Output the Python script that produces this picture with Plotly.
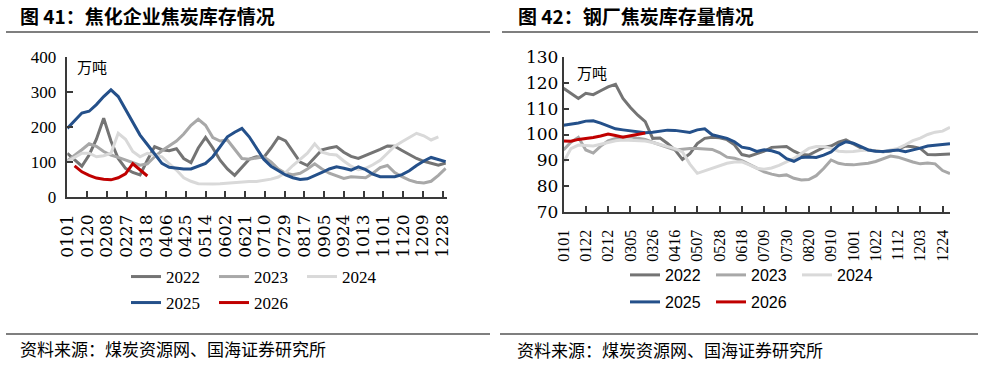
import plotly.graph_objects as go
from datetime import date

# ---------------- data ----------------
week_dates = ["0101", "0108", "0115", "0122", "0129", "0205", "0212", "0219", "0226", "0305",
              "0312", "0319", "0326", "0402", "0409", "0416", "0423", "0430", "0507", "0514",
              "0521", "0528", "0604", "0611", "0618", "0625", "0702", "0709", "0716", "0723",
              "0730", "0806", "0813", "0820", "0827", "0903", "0910", "0917", "0924", "1001",
              "1008", "1015", "1022", "1029", "1105", "1112", "1119", "1126", "1203", "1210",
              "1217", "1224", "1231"]

left_ticks = ["0101", "0120", "0208", "0227", "0318", "0406", "0425", "0514", "0602", "0621",
              "0710", "0729", "0817", "0905", "0924", "1013", "1101", "1120", "1209", "1228"]
right_ticks = ["0101", "0122", "0212", "0305", "0326", "0416", "0507", "0528", "0618", "0709",
               "0730", "0820", "0910", "1001", "1022", "1112", "1203", "1224"]

# 图41 焦化企业焦炭库存（万吨）
coke_2022 = [125, 105, 88, 120, 165, 225, 160, 110, 82, 70, 63, 105, 144, 135, 132, 138, 110, 98,
             140, 170, 140, 105, 80, 62, 85, 108, 115, 113, 140, 170, 160, 130, 100, 90, 112, 135,
             140, 144, 128, 116, 110, 118, 126, 136, 146, 145, 133, 122, 110, 102, 96, 91, 97]
coke_2023 = [103, 118, 135, 152, 145, 130, 120, 113, 105, 97, 91, 95, 115, 132, 145, 160, 180, 205,
             222, 205, 170, 160, 163, 135, 110, 108, 112, 115, 100, 80, 68, 64, 68, 80, 95, 80,
             68, 60, 53, 58, 56, 55, 68, 84, 90, 70, 58, 48, 42, 40, 45, 62, 82]
coke_2024 = [101, 112, 125, 125, 115, 118, 125, 182, 165, 130, 115, 125, 120, 115, 95, 77, 55, 45,
             38, 37, 37, 38, 40, 42, 44, 44, 44, 47, 51, 57, 70, 90, 108, 125, 152, 128,
             122, 120, 103, 88, 78, 82, 92, 105, 125, 145, 158, 170, 182, 175, 163, 172]
coke_2025 = [196, 218, 240, 245, 264, 287, 306, 287, 250, 213, 177, 150, 122, 96, 85, 82, 80, 80,
             88, 96, 115, 145, 172, 185, 196, 172, 140, 108, 88, 75, 63, 55, 50, 52, 60, 70,
             80, 86, 82, 77, 86, 78, 65, 58, 58, 58, 64, 75, 90, 103, 113, 106, 101]
coke_2026 = [89, 72, 62, 54, 51, 49, 55, 66, 95, 77, 60]          # from 0108

# 图42 钢厂焦炭库存量（万吨）
inv_2022 = [118, 116, 114, 116, 115.5, 117, 118.5, 119.5, 114, 110.5, 107.5, 105, 98.5, 98.6,
            96.5, 94, 90.3, 92.5, 96.5, 98.5, 98.9, 98.7, 98, 96, 92.2, 91.6, 92.5, 93.5, 95,
            95.2, 95.3, 93.5, 92.2, 92, 93.5, 95, 95.5, 97, 97.9, 96.5, 94.8, 94, 93.6, 93.3,
            93.6, 94.3, 95.5, 95.2, 94.6, 92.2, 92.1, 92.3, 92.4]
inv_2023 = [94, 97, 98.9, 94, 92.8, 95.5, 97.5, 98.5, 99, 99.1, 98.5, 98.1, 97, 96, 95, 94,
            94.3, 94.6, 94.6, 94.5, 94.2, 93, 91.2, 90.8, 89.8, 88.4, 86.8, 85.5, 84.6, 84,
            84.3, 83, 82.3, 82.5, 84, 86.8, 90.1, 88.8, 88.3, 88.2, 88.5, 88.8, 89.5, 90.4,
            91.6, 91.2, 90.2, 89.3, 88.6, 88.9, 88.6, 86, 84.8]
inv_2024 = [89.2, 94.5, 95.9, 95.7, 95.5, 96.2, 96.8, 97.6, 97.9, 97.7, 97.7, 97.5, 96.9, 96.2,
            95.5, 94.5, 93.2, 88.5, 84.9, 85.8, 86.9, 87.8, 88.8, 89.3, 89.4, 88.2, 86.9, 86.5,
            87, 88, 89.5, 90.7, 92.6, 94.6, 95.3, 95.3, 94.6, 93.5, 93.3, 93.4, 93.8, 94, 93.6,
            93.3, 94, 94.6, 96, 97.6, 98.6, 100, 100.9, 101.3, 102.8]
inv_2025 = [103.6, 104, 104.5, 105.2, 105.3, 104.4, 103.3, 102.2, 101.8, 101.4, 101, 100.7,
            100.9, 101.3, 101.7, 101.6, 101.2, 100.8, 101.8, 102.2, 99.9, 99.3, 98.5, 97.2,
            95.1, 94.6, 93.4, 94.1, 93.7, 92.8, 90.6, 89.6, 91.1, 91.3, 91.1, 92, 93.2, 95.8,
            97.2, 96.6, 95.2, 94, 93.5, 93.4, 93.7, 94, 93.3, 93.9, 94.7, 95.5, 95.8, 96.1, 96.4]
inv_2026 = [97.5, 97.4, 98.1, 98.4, 98.8, 99.4, 100.2, 99.6, 98.9, 99.5, 100.1, 100.6]

years = ["2022", "2023", "2024", "2025", "2026"]
colors = {"2022": "#747474", "2023": "#A8A8A8", "2024": "#D9D9D9",
          "2025": "#24508A", "2026": "#C00000"}


def doy(mmdd):
    return date(2023, int(mmdd[:2]), int(mmdd[2:])).timetuple().tm_yday - 1


week_x = [doy(d) for d in week_dates]

W, H = 986, 368


def px(x):
    return x / W


def py(y):
    return 1 - y / H


fig = go.Figure()

left_series = {"2022": (week_x, coke_2022), "2023": (week_x, coke_2023),
               "2024": (week_x[:len(coke_2024)], coke_2024), "2025": (week_x, coke_2025),
               "2026": (week_x[1:1 + len(coke_2026)], coke_2026)}
right_series = {"2022": (week_x, inv_2022), "2023": (week_x, inv_2023),
                "2024": (week_x, inv_2024), "2025": (week_x, inv_2025),
                "2026": (week_x[:len(inv_2026)], inv_2026)}

for y in years:
    xs, vs = left_series[y]
    fig.add_trace(go.Scatter(x=xs, y=vs, name=y, mode="lines",
                             line=dict(color=colors[y], width=3),
                             xaxis="x", yaxis="y",
                             legend="legend" if y in ("2022", "2023", "2024") else "legend2"))
for y in years:
    xs, vs = right_series[y]
    fig.add_trace(go.Scatter(x=xs, y=vs, name=y, mode="lines",
                             line=dict(color=colors[y], width=3),
                             xaxis="x2", yaxis="y2",
                             legend="legend3" if y in ("2022", "2023", "2024") else "legend4"))

axis_common = dict(showline=True, linecolor="#3a3a3a", linewidth=1.5, showgrid=False,
                   zeroline=False, ticks="inside", ticklen=6, tickcolor="#3a3a3a",
                   tickwidth=1.5, automargin=False)

fig.update_layout(
    width=W, height=H, margin=dict(l=0, r=0, t=0, b=0, pad=0, autoexpand=False),
    paper_bgcolor="white", plot_bgcolor="white",
    xaxis=dict(domain=[px(67.3), px(446.7)], range=[0, 365], anchor="y",
               tickmode="array", tickvals=[doy(t) for t in left_ticks], ticktext=left_ticks,
               tickangle=-90, ticklabelstandoff=9,
               tickfont=dict(family="DejaVu Serif", size=17, color="#000"), **axis_common),
    yaxis=dict(domain=[py(197), py(57)], range=[0, 400], anchor="x", dtick=100,
               tickfont=dict(family="Liberation Serif", size=17, color="#000"),
               ticklabelstandoff=6, **axis_common),
    xaxis2=dict(domain=[px(563.5), px(950)], range=[0, 364], anchor="y2",
                tickmode="array", tickvals=[doy(t) for t in right_ticks], ticktext=right_ticks,
                tickangle=-90, ticklabelstandoff=10,
                tickfont=dict(family="Liberation Serif", size=16, color="#000"), **axis_common),
    yaxis2=dict(domain=[py(211.7), py(57.3)], range=[70, 130], anchor="x2", dtick=10,
                tickfont=dict(family="DejaVu Serif", size=17, color="#000"),
                ticklabelstandoff=0, **axis_common),
)

leg_common = dict(orientation="h", bgcolor="rgba(0,0,0,0)", xanchor="left", yanchor="middle",
                  entrywidthmode="pixels", itemwidth=30, traceorder="normal")
serif_leg = dict(family="Liberation Serif", size=17, color="#000")
sans_leg = dict(family="Liberation Sans", size=16, color="#000")
fig.update_layout(
    legend=dict(x=px(126), y=py(277), font=serif_leg, entrywidth=43, **leg_common),
    legend2=dict(x=px(126), y=py(303), font=serif_leg, entrywidth=43, **leg_common),
    legend3=dict(x=px(625), y=py(275), font=sans_leg, entrywidth=41, **leg_common),
    legend4=dict(x=px(625), y=py(302), font=sans_leg, entrywidth=41, **leg_common),
)

title_font = dict(family="Noto Sans CJK SC", size=19, color="#000", weight="bold")
src_font = dict(family="Noto Sans CJK SC", size=17, color="#000")
unit_font = dict(family="Noto Sans CJK SC", size=15, color="#000")
annos = [
    dict(text="图 41：焦化企业焦炭库存情况", x=px(18), y=py(15), font=title_font),
    dict(text="图 42：钢厂焦炭库存量情况", x=px(516), y=py(15), font=title_font),
    dict(text="资料来源：煤炭资源网、国海证券研究所", x=px(18), y=py(348), font=src_font),
    dict(text="资料来源：煤炭资源网、国海证券研究所", x=px(515), y=py(349), font=src_font),
    dict(text="万吨", x=px(75), y=py(67), font=unit_font),
    dict(text="万吨", x=px(575), y=py(72), font=unit_font),
]
for a in annos:
    fig.add_annotation(xref="paper", yref="paper", xanchor="left", yanchor="middle",
                       showarrow=False, **a)

for (x0, x1, y) in [(6, 490, 32), (502, 978, 32), (6, 490, 334), (500, 978, 334)]:
    fig.add_shape(type="line", xref="paper", yref="paper", x0=px(x0), x1=px(x1),
                  y0=py(y), y1=py(y), line=dict(color="#7f7f7f", width=2))

# place the figure at the page's top-left corner (remove the default body margin)
fig.write_html("out.html", config={"displayModeBar": False},
               post_script="document.body.style.margin='0';document.body.style.padding='0';")
